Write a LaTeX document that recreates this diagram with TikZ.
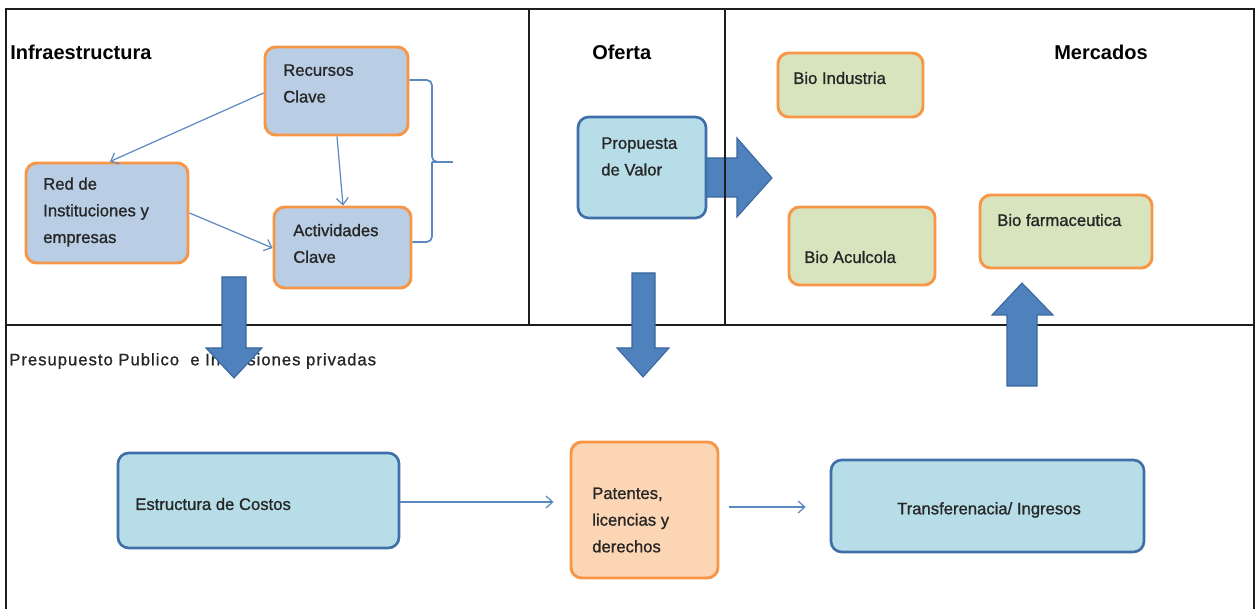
\documentclass[tikz,border=0pt]{standalone}
\usepackage{fontspec}
\setmainfont{Liberation Sans}
\newfontfamily\bodyf{Liberation Sans}[AutoFakeBold=1.0]
\newfontfamily\presf{Liberation Sans}[AutoFakeBold=1.0,LetterSpace=6.0]
\usetikzlibrary{arrows.meta,fit}
\definecolor{orangeB}{HTML}{F79646}
\definecolor{infraFill}{HTML}{B9CDE5}
\definecolor{propFill}{HTML}{B7DEE8}
\definecolor{blueB}{HTML}{3F6FA8}
\definecolor{greenFill}{HTML}{D7E4BD}
\definecolor{peachFill}{HTML}{FCD5B5}
\definecolor{arrowFill}{HTML}{4F81BD}
\definecolor{arrowDraw}{HTML}{3A679E}
\definecolor{thinBlue}{HTML}{5B88C0}
\definecolor{frameC}{HTML}{1E1E1E}
\begin{document}
\begin{tikzpicture}[x=0.75pt,y=-0.75pt,
  frame/.style={draw=frameC,line width=1.5pt},
  basebox/.style={rounded corners=8pt,inner sep=0pt},
  infrabox/.style={basebox,draw=orangeB,fill=infraFill,line width=2.2pt},
  greenbox/.style={basebox,draw=orangeB,fill=greenFill,line width=2.2pt},
  peachbox/.style={basebox,draw=orangeB,fill=peachFill,line width=2.2pt},
  bluebox/.style={basebox,draw=blueB,fill=propFill,line width=2pt},
  txt/.style={inner sep=0pt,align=left,font=\bodyf\fontsize{12.5}{20}\selectfont\bfseries,text=black!85},
  head/.style={inner sep=0pt,font=\fontsize{15}{18}\selectfont\bfseries,text=black},
  thin/.style={draw=thinBlue,line width=0.9pt,-{Straight Barb[length=5pt,width=9pt]}},
  bigarrow/.style={fill=arrowFill,draw=arrowDraw,line width=0.8pt,line join=miter},
  brace/.style={draw=thinBlue,line width=1.3pt,rounded corners=4pt}
]
\useasboundingbox (0,0) rectangle (1257,609);

% frame
\draw[frame] (6,609) -- (6,9) -- (1254,9) -- (1254,609);
\draw[frame] (6,325) -- (1254,325);
\draw[frame] (529,9) -- (529,325);

% headings
\node[head,anchor=west] (hinfra) at (10,52) {Infraestructura};
\node[head,anchor=west] (hofer) at (592,52) {Oferta};
\node[head,anchor=west] (hmerc) at (1054,52) {Mercados};
\node[txt,anchor=west,font=\presf\fontsize{12.5}{20}\selectfont\bfseries] (hpres) at (9,361) {Presupuesto Publico \ e Inversiones privadas};

% infrastructure boxes
\node[infrabox,fit={(265,47)(408,135)}] (rec) {};
\node[txt,anchor=west] (rect) at (283,83.5) {Recursos\\Clave};
\node[infrabox,fit={(26,163)(188,263)}] (red) {};
\node[txt,anchor=west] (redt) at (43,212) {Red de\\Instituciones y\\empresas};
\node[infrabox,fit={(274,207)(411,288)}] (act) {};
\node[txt,anchor=west] (actt) at (293,243.5) {Actividades\\Clave};

\draw[thin] (rec.west |- 0,93) -- (red.north -| 110,0);
\draw[thin] (rec.south -| 337,0) -- (act.north -| 343,0);
\draw[thin] (red.east |- 0,213) -- (act.west |- 0,248);

% brace
\draw[brace] (rec.east |- 0,80) -- (432,80) -- (432,162) -- (436,162);
\draw[brace] (act.east |- 0,242) -- (432,242) -- (432,162);
\draw[draw=thinBlue,line width=1.3pt] (432,162) -- (453,162);

% big arrows
\draw[bigarrow] (705,158) -- (737,158) -- (737,138) -- (772,178) -- (737,217) -- (737,197) -- (705,197) -- cycle;
\draw[frame] (725,9) -- (725,325);
\draw[bigarrow] (222,277) -- (246,277) -- (246,348) -- (262,348) -- (234,378) -- (206,348) -- (222,348) -- cycle;
\draw[bigarrow] (632,273) -- (655,273) -- (655,348) -- (669,348) -- (643,377) -- (617,348) -- (632,348) -- cycle;
\draw[bigarrow] (1007,386) -- (1007,315) -- (992,315) -- (1022,283) -- (1053,315) -- (1037,315) -- (1037,386) -- cycle;

% oferta
\node[bluebox,fit={(578,117)(706,218)}] (prop) {};
\node[txt,anchor=west] (propt) at (601,156.5) {Propuesta\\de Valor};

% mercados
\node[greenbox,fit={(778,53)(923,117)}] (bind) {};
\node[txt,anchor=west] (bindt) at (793,78) {Bio Industria};
\node[greenbox,fit={(789,207)(935,285)}] (bacu) {};
\node[txt,anchor=west] (bacut) at (804,257) {Bio Aculcola};
\node[greenbox,fit={(980,195)(1152,268)}] (bfar) {};
\node[txt,anchor=west] (bfart) at (997,220) {Bio farmaceutica};

% bottom row
\node[bluebox,fit={(118,453)(399,548)}] (estr) {};
\node[txt,anchor=west] (estrt) at (135,504) {Estructura de Costos};
\node[peachbox,fit={(571,442)(718,578)}] (pat) {};
\node[txt,anchor=west] (patt) at (592,520) {Patentes,\\licencias y\\derechos};
\node[bluebox,fit={(831,460)(1144,552)}] (trans) {};
\node[txt] (transt) at (989,510) {Transferenacia/ Ingresos};

\draw[thin,shorten >=12pt] (estr.east |- 0,502) -- (pat.west |- 0,502);
\draw[thin,shorten <=7.5pt,shorten >=18pt] (pat.east |- 0,507) -- (trans.west |- 0,507);
\end{tikzpicture}
\end{document}
